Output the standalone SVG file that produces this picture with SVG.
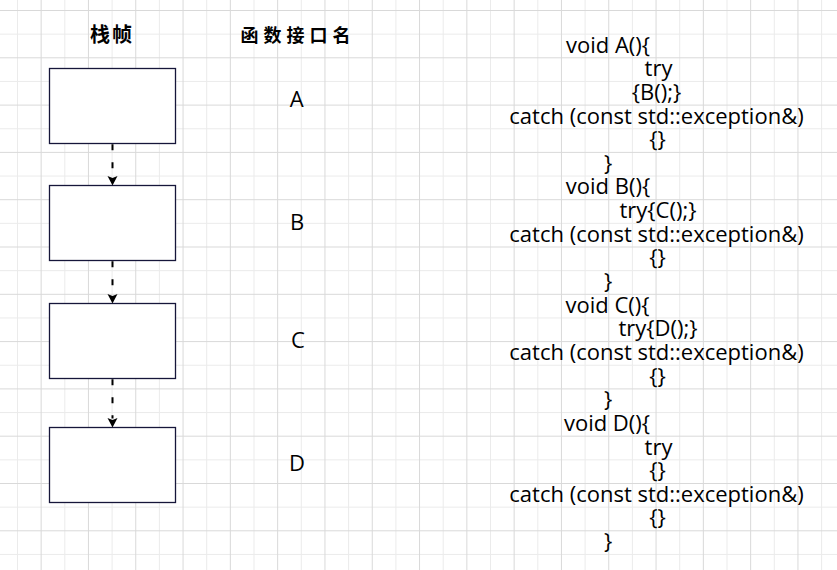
<svg xmlns="http://www.w3.org/2000/svg" width="837" height="570" viewBox="0 0 837 570">
<style>
.minor{stroke:#ebebeb;stroke-width:1;fill:none}
.major{stroke:#d9d9d9;stroke-width:1;fill:none}
.frame{fill:#ffffff;stroke:#16163a;stroke-width:1.3}
.edge{stroke:#000;stroke-width:2;stroke-dasharray:6 12;fill:none}
.head{fill:#000}
.hdr{font-family:"Noto Sans CJK SC",sans-serif;font-weight:bold;fill:#000}
.lbl{font-family:"Open Sans",sans-serif;font-size:22px;fill:#000;text-anchor:middle}
.code{font-family:"Open Sans",sans-serif;font-size:22px;fill:#000;text-anchor:middle}
</style>
<rect x="0" y="0" width="837" height="570" fill="#ffffff"/>
<g id="grid">
<path class="minor" d="M17.5 0V570M64.8 0V570M112.1 0V570M159.4 0V570M206.7 0V570M254 0V570M301.3 0V570M348.6 0V570M395.9 0V570M443.2 0V570M490.5 0V570M537.8 0V570M585.1 0V570M632.4 0V570M679.7 0V570M727 0V570M774.3 0V570M821.6 0V570M0 34.15H837M0 81.45H837M0 128.75H837M0 176.05H837M0 223.35H837M0 270.65H837M0 317.95H837M0 365.25H837M0 412.55H837M0 459.85H837M0 507.15H837M0 554.45H837"/>
<path class="major" d="M41.15 0V570M88.45 0V570M135.75 0V570M183.05 0V570M230.35 0V570M277.65 0V570M324.95 0V570M372.25 0V570M419.55 0V570M466.85 0V570M514.15 0V570M561.45 0V570M608.75 0V570M656.05 0V570M703.35 0V570M750.65 0V570M797.95 0V570M0 10.5H837M0 57.8H837M0 105.1H837M0 152.4H837M0 199.7H837M0 247H837M0 294.3H837M0 341.6H837M0 388.9H837M0 436.2H837M0 483.5H837M0 530.8H837"/>
</g>
<g id="header-frames"><text class="hdr" x="90" y="42" font-size="20" letter-spacing="2">栈帧</text></g>
<g id="header-names"><text class="hdr" x="240.5" y="41.5" font-size="18" letter-spacing="5">函数接口名</text></g>
<g id="frame-A"><rect class="frame" x="49.5" y="68.5" width="126" height="75"/></g>
<g id="frame-B"><rect class="frame" x="49.5" y="185.5" width="126" height="75"/></g>
<g id="frame-C"><rect class="frame" x="49.5" y="303.5" width="126" height="75"/></g>
<g id="frame-D"><rect class="frame" x="49.5" y="427.5" width="126" height="75"/></g>
<g id="connectors">
<path class="edge" d="M112.5 144.2V176.5"/>
<path class="head" d="M107.5 176L112.5 185.5L117.5 176L112.5 178Z"/>
<path class="edge" d="M112.5 261.2V294.5"/>
<path class="head" d="M107.5 294L112.5 303.5L117.5 294L112.5 296Z"/>
<path class="edge" d="M112.5 379.2V418.5"/>
<path class="head" d="M107.5 418L112.5 427.5L117.5 418L112.5 420Z"/>
</g>
<g id="name-A"><text class="lbl" x="296.7" y="107">A</text></g>
<g id="name-B"><text class="lbl" x="297" y="230">B</text></g>
<g id="name-C"><text class="lbl" x="298" y="348.3">C</text></g>
<g id="name-D"><text class="lbl" x="297" y="470.7">D</text></g>
<g id="code">
<text class="code" x="608" y="52.6">void A(){</text>
<text class="code" x="658.5" y="76.2">try</text>
<text class="code" x="656.5" y="99.9">{B();}</text>
<text class="code" x="656.5" y="123.5">catch (const std::exception&amp;)</text>
<text class="code" x="657.5" y="147.2">{}</text>
<text class="code" x="608" y="170.8">}</text>
<text class="code" x="608" y="194.4">void B(){</text>
<text class="code" x="658" y="218.1">try{C();}</text>
<text class="code" x="656.5" y="241.7">catch (const std::exception&amp;)</text>
<text class="code" x="657.5" y="265.4">{}</text>
<text class="code" x="608" y="289">}</text>
<text class="code" x="607.5" y="312.6">void C(){</text>
<text class="code" x="658" y="336.3">try{D();}</text>
<text class="code" x="656.5" y="359.9">catch (const std::exception&amp;)</text>
<text class="code" x="657.5" y="383.6">{}</text>
<text class="code" x="608" y="407.2">}</text>
<text class="code" x="607" y="430.8">void D(){</text>
<text class="code" x="658.5" y="454.5">try</text>
<text class="code" x="657.5" y="478.1">{}</text>
<text class="code" x="656.5" y="501.8">catch (const std::exception&amp;)</text>
<text class="code" x="657.5" y="525.4">{}</text>
<text class="code" x="608" y="549">}</text>
</g>
</svg>
